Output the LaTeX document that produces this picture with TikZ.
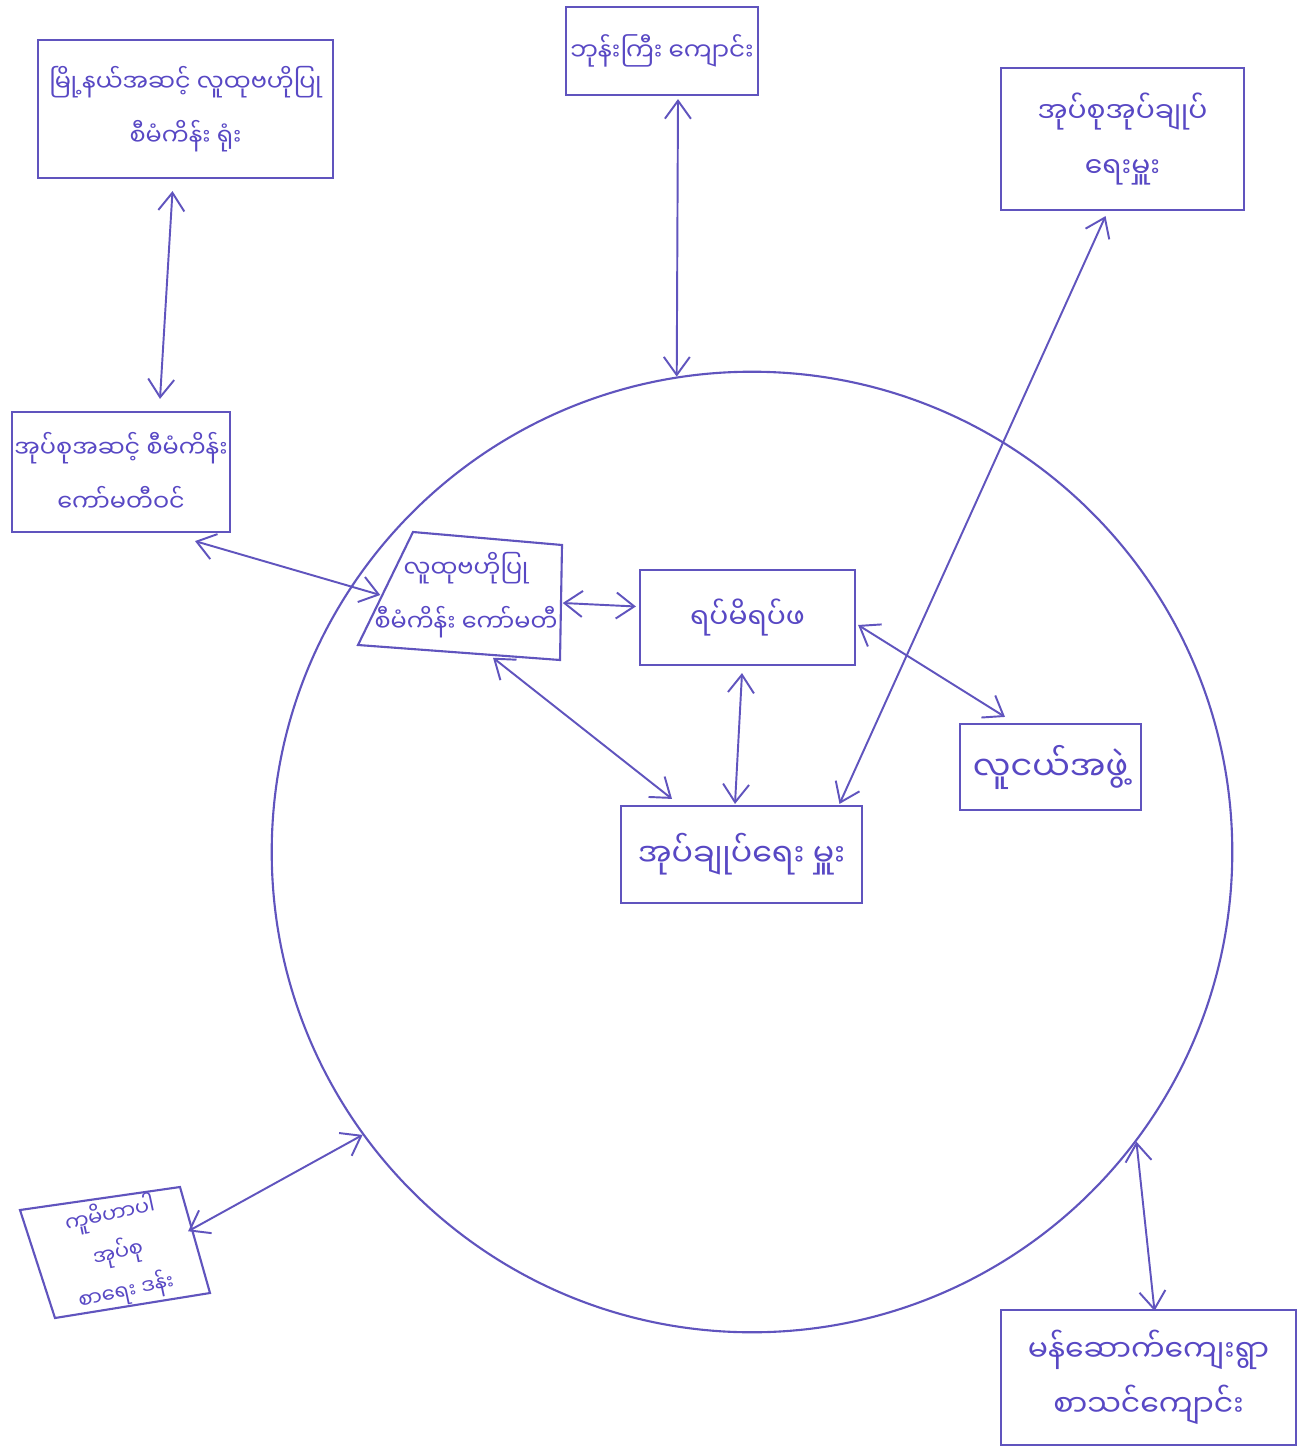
\documentclass[tikz,border=0pt]{standalone}
\usepackage{fontspec}
\newfontfamily\mya[Script=Myanmar]{Noto Sans Myanmar UI}
\usetikzlibrary{arrows.meta,calc}
\definecolor{ink}{RGB}{88,72,196}
\definecolor{lineink}{RGB}{96,84,190}
\newcommand{\fsz}[1]{\mya\fontsize{#1}{15.5}\selectfont}
\begin{document}
\begin{tikzpicture}[x=0.01cm,y=-0.01cm,
  txt/.style={text=ink,align=center,inner sep=0pt},
  box/.style={txt,draw=lineink,line width=0.6pt},
  con/.style={draw=lineink,line width=0.55pt,{Straight Barb[length=1.8mm,width=2.6mm]}-{Straight Barb[length=1.8mm,width=2.6mm]}},
  outline/.style={draw=lineink,line width=0.6pt}]
\useasboundingbox (0,0) rectangle (1298,1452);
\fill[white] (0,0) rectangle (1298,1452);
% big circle
\node[circle,draw=lineink,line width=0.6pt,minimum size=9.6cm,inner sep=0pt] (C) at (752,852) {};
% boxes
\node[box,font=\fsz{6.8},minimum width=2.95cm,minimum height=1.38cm] (tl) at (185.5,109) {မြို့နယ်အဆင့် လူထုဗဟိုပြု\\စီမံကိန်း ရုံး};
\node[box,font=\fsz{7},minimum width=1.92cm,minimum height=0.88cm] (tm) at (662,51) {ဘုန်းကြီး ကျောင်း};
\node[box,font=\fsz{8},minimum width=2.43cm,minimum height=1.42cm] (tr) at (1122.5,139) {အုပ်စုအုပ်ချုပ်\\ရေးမှူး};
\node[box,font=\fsz{6.8},minimum width=2.18cm,minimum height=1.20cm] (lm) at (121,472) {အုပ်စုအဆင့် စီမံကိန်း\\ကော်မတီဝင်};
\node[txt,font=\fsz{6.8},minimum width=1.90cm,minimum height=1.14cm] (cl) at (466,595) {လူထုဗဟိုပြု\\စီမံကိန်း ကော်မတီ};
\draw[outline] (413,532) -- (562,545) -- (560,660) -- (358,645) -- cycle;
\node[box,font=\fsz{8},minimum width=2.15cm,minimum height=0.95cm] (cc) at (747.5,617.5) {ရပ်မိရပ်ဖ};
\node[box,font=\fsz{9},minimum width=2.41cm,minimum height=0.97cm] (lc) at (741.5,854.5) {အုပ်ချုပ်ရေး မှူး};
\node[box,font=\fsz{9.5},minimum width=1.81cm,minimum height=0.86cm] (rt) at (1050.5,767) {လူငယ်အဖွဲ့};
\node[txt,font=\mya\fontsize{6}{11}\selectfont,rotate=12,minimum width=1.5cm,minimum height=1.0cm] (bl) at (118,1253) {ကူမိဟာပါ\\အုပ်စု\\စာရေး ဒန်း};
\draw[outline] (20,1210) -- (180,1187) -- (210,1293) -- (55,1318) -- cycle;
\node[box,font=\fsz{8.5},minimum width=2.95cm,minimum height=1.35cm] (br) at (1148.5,1377.5) {မန်ဆောက်ကျေးရွာ\\စာသင်ကျောင်း};
% connectors
\draw[con] ($(tl.south)+(-13,12)$) -- ($(lm.north)+(39,-12)$);
\draw[con] ($(tm.south)+(16,3)$) -- (C.99);
\draw[con] ($(tr.south)+(-17,5)$) -- ($(lc.north)+(98,-1)$);
\draw[con] ($(lm.south)+(74,8)$) -- ($(cl.west)+(10,0)$);
\draw[con] ($(cl.east)+(1,8)$) -- ($(cc.west)+(-3,-11)$);
\draw[con] ($(cl.south)+(27,5)$) -- ($(lc.north)+(-69.5,-6)$);
\draw[con] ($(cc.south)+(-5.5,7)$) -- ($(lc.north)+(-6.5,-1)$);
\draw[con] ($(cc.east)+(2,7.5)$) -- ($(rt.north)+(-45.5,-6)$);
\draw[con] ($(bl.east)+(-4,-6)$) -- (C.216);
\draw[con] ($(br.north)+(6,2)$) -- (C.323);
\end{tikzpicture}
\end{document}
